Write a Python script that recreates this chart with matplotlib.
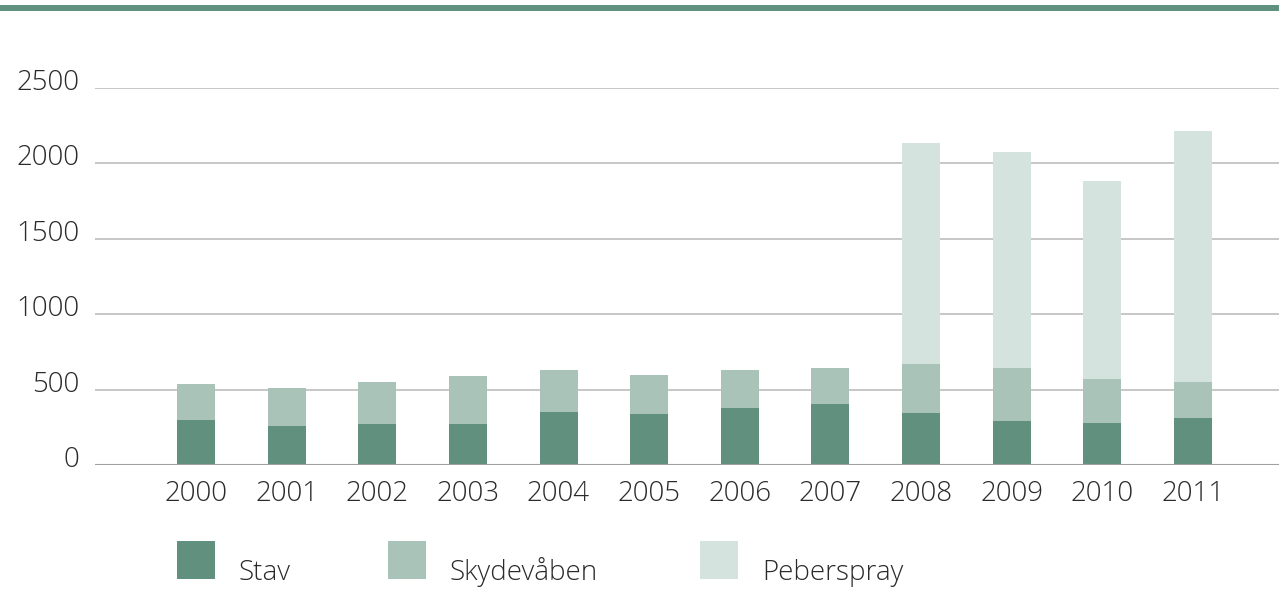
import matplotlib.pyplot as plt
from matplotlib.patches import Rectangle
import numpy as np

# data
years = ['2000', '2001', '2002', '2003', '2004', '2005',
         '2006', '2007', '2008', '2009', '2010', '2011']
stav = [300, 260, 273, 273, 353, 340, 380, 407, 347, 293, 280, 313]
skydevaaben = [240, 253, 280, 314, 274, 260, 247, 233, 320, 347, 293, 240]
peberspray = [0, 0, 0, 0, 0, 0, 0, 0, 1469, 1437, 1312, 1662]
labels = ['Stav', 'Skydevåben', 'Peberspray']
colors = ['#62907f', '#a9c3b8', '#d5e3de']

plt.rcParams['font.family'] = ['Open Sans', 'DejaVu Sans']
W, H = 1279, 612
FS = 20
FW = 'light'
TC = '#2a2a2a'
fig = plt.figure(figsize=(W / 100, H / 100), dpi=100)
ax = fig.add_axes([95 / W, 1 - 465 / H, 1 - 95 / W, (465 - 88) / H])

x = np.arange(len(years))
bw = 0.42
ax.bar(x, stav, bw, color=colors[0], zorder=2)
ax.bar(x, skydevaaben, bw, bottom=stav, color=colors[1], zorder=2)
bottom2 = np.array(stav) + np.array(skydevaaben)
ax.bar(x, peberspray, bw, bottom=bottom2, color=colors[2], zorder=2)

ax.set_ylim(0, 2500)
ax.set_xlim(-1.115, 11.95)
for y in range(500, 2501, 500):
    ax.axhline(y, color='#bdbdbd', lw=1.2, zorder=1)
ax.axhline(0, color='#a0a0a0', lw=1.5, zorder=3)

for s in ax.spines.values():
    s.set_visible(False)
ax.set_xticks(x)
ax.set_xticklabels(years, fontsize=FS, color=TC, fontweight=FW)
ax.tick_params(axis='x', length=0, pad=11)
ax.set_yticks([])

# y labels sit a bit above their gridlines, right-aligned at x=78
for v in range(0, 2501, 500):
    ypix = 465 - v * (465 - 88) / 2500 + 2
    fig.text(79 / W, 1 - ypix / H, str(v), ha='right', va='baseline',
             fontsize=FS, color=TC, fontweight=FW)

# top band
fig.add_artist(Rectangle((0, 1 - 11 / H), 1, 6 / H, transform=fig.transFigure,
                         color='#62907f', lw=0))

# legend
leg_x = [177, 388, 700]
txt_x = [238, 450, 762]
for lx, tx, lab, c in zip(leg_x, txt_x, labels, colors):
    fig.add_artist(Rectangle((lx / W, 1 - 579 / H), 38 / W, 38 / H,
                             transform=fig.transFigure, color=c, lw=0))
    fig.text(tx / W, 1 - 580 / H, lab, ha='left', va='baseline',
             fontsize=FS, color=TC, fontweight=FW)

fig.savefig('out.png', dpi=100)
